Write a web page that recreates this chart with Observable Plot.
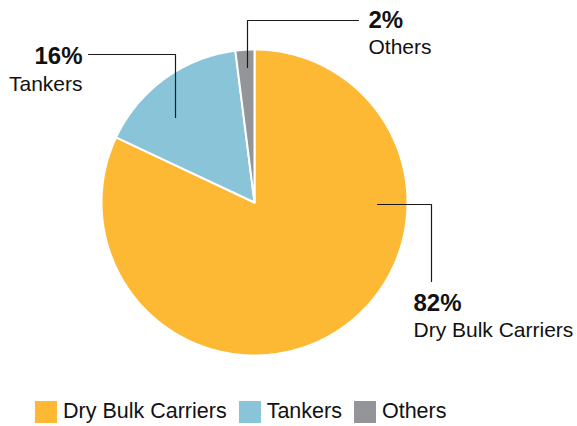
<!DOCTYPE html>
<html><head><meta charset="utf-8">
<script src="https://cdn.jsdelivr.net/npm/d3@7"></script>
<script src="https://cdn.jsdelivr.net/npm/@observablehq/plot@0.6"></script>
<style>
body{margin:0;background:#fff;font-family:"Liberation Sans",Arial,Helvetica,sans-serif;}
#chart{width:577px;height:426px;position:relative;overflow:hidden;}
#legend{position:absolute;left:35px;top:399px;}
.lg-swatches-wrap{min-height:0 !important;}
.lg-swatches{margin:0 !important;}
.lg-swatch{margin-right:12px !important;}
.lg-swatch > svg{margin-right:6px !important;}
</style></head><body><div id="chart"><div id="plot"></div><div id="legend"></div></div>
<script>
// ---- data ----
const categories = ["Dry Bulk Carriers", "Tankers", "Others"];
const shares = [82, 16, 2];
const pctLabels = ["82%", "16%", "2%"];
const colors = ["#FDB933", "#89C4D9", "#939598"];

// ---- layout (pixels) ----
const W = 577, H = 385, CX = 254, CY = 202, R = 153;
const u = (px, py) => ({x: (px - CX) / R, y: (CY - py) / R});
// leader lines in pixel layout
const leaderPaths = {
  "Others": [[247, 67], [247, 20], [358, 20]],
  "Tankers": [[175, 117], [175, 54], [88, 54]],
  "Dry Bulk Carriers": [[377, 204], [431, 204], [431, 281]]
};
const labelPos = {
  "Others": {x: 368, pctY: 27, nameY: 53, anchor: "start"},
  "Tankers": {x: 82, pctY: 63, nameY: 90, anchor: "end"},
  "Dry Bulk Carriers": {x: 413, pctY: 310, nameY: 336, anchor: "start"}
};

const rows = categories.map((c, i) => ({cat: c, value: shares[i], pct: pctLabels[i]}));
const arcs = d3.pie().sort(null).value(d => d.value)(rows);
const pts = [];
arcs.forEach(a => {
  const cat = a.data.cat;
  pts.push({cat, x: 0, y: 0});
  const n = Math.max(4, Math.ceil((a.endAngle - a.startAngle) / (Math.PI / 360)));
  for (let i = 0; i <= n; i++) {
    const t = a.startAngle + (a.endAngle - a.startAngle) * i / n;
    pts.push({cat, x: Math.sin(t), y: Math.cos(t)});
  }
});

const leaders = [];
categories.forEach(c => leaderPaths[c].forEach(p => leaders.push({cat: c, ...u(p[0], p[1])})));

const labels = [];
rows.forEach(r => {
  const L = labelPos[r.cat];
  labels.push({...u(L.x, L.pctY), text: r.pct, bold: true, anchor: L.anchor});
  labels.push({...u(L.x, L.nameY), text: r.cat, bold: false, anchor: L.anchor});
});

const font = '"Liberation Sans", Arial, Helvetica, sans-serif';
const textMark = (bold, anchor) => Plot.text(labels.filter(d => d.bold === bold && d.anchor === anchor), {
  x: "x", y: "y", text: "text", textAnchor: anchor, lineAnchor: "bottom",
  fontSize: bold ? 24 : 21, fontWeight: bold ? "bold" : "normal", fill: "#111", fontFamily: font
});

const plot = Plot.plot({
  width: W, height: H,
  margin: 0,
  x: {domain: [-1, 1], range: [CX - R, CX + R], axis: null},
  y: {domain: [-1, 1], range: [CY + R, CY - R], axis: null},
  color: {domain: categories, range: colors},
  style: {background: "white", fontFamily: font, overflow: "visible"},
  marks: [
    Plot.line(pts, {x: "x", y: "y", z: "cat", fill: "cat", stroke: "white", strokeWidth: 2, curve: "linear-closed", strokeLinejoin: "round"}),
    Plot.line(leaders, {x: "x", y: "y", z: "cat", stroke: "#1a1a1a", strokeWidth: 1.2}),
    textMark(true, "start"), textMark(true, "end"),
    textMark(false, "start"), textMark(false, "end")
  ]
});
document.getElementById("plot").appendChild(plot);

const legend = Plot.legend({
  color: {domain: categories, range: colors},
  legend: "swatches", swatchSize: 22, className: "lg",
  style: {fontSize: "21.5px", fontFamily: font, color: "#111"}
});
document.getElementById("legend").appendChild(legend);
</script></body></html>
